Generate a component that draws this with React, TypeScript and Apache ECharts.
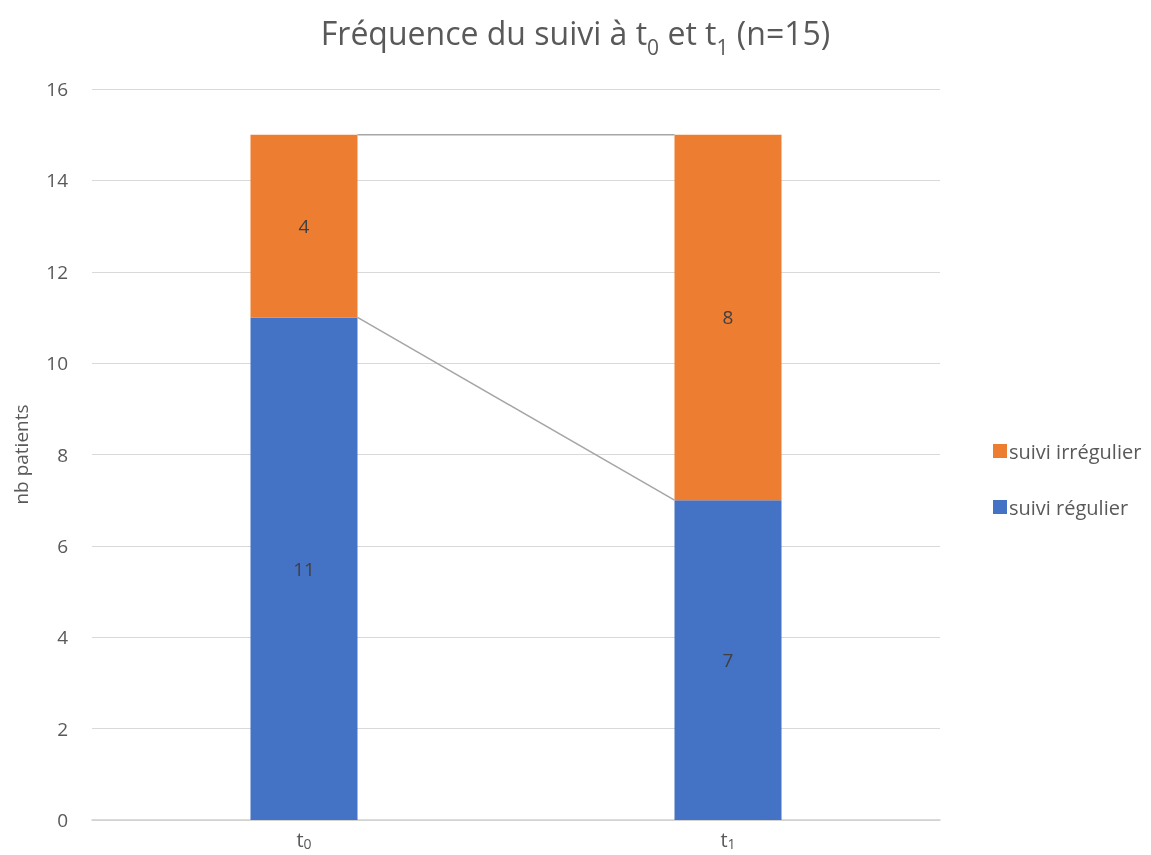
import React, { useEffect, useRef } from "react";
import * as echarts from "echarts";

const categories = ["t0", "t1"];
const regulier = [11, 7];
const irregulier = [4, 8];
const yTicks = { min: 0, max: 16, interval: 2 };
const seriesNames = ["suivi régulier", "suivi irrégulier"];

const BAR_W = 107;
const FONT = "'Open Sans', 'Liberation Sans', sans-serif";

export default function App() {
  const ref = useRef<HTMLDivElement>(null);
  useEffect(() => {
    if (!ref.current) return;
    const chart = echarts.init(ref.current, null, { renderer: "svg" });
    const tops1 = regulier.slice();
    const tops2 = regulier.map((v, i) => v + irregulier[i]);
    const lineData = [
      [0, tops1[0], tops1[1]],
      [0, tops2[0], tops2[1]],
    ];
    chart.setOption({
      animation: false,
      textStyle: { fontFamily: FONT },
      title: {
        text: "Fréquence du suivi à t{sub|0} et t{sub|1} (n=15)",
        left: "center",
        top: 2,
        textStyle: {
          fontFamily: FONT,
          fontSize: 32,
          fontWeight: "normal",
          color: "#595959",
          lineHeight: 50,
          rich: {
            sub: {
              fontFamily: FONT,
              fontSize: 21,
              color: "#595959",
              lineHeight: 50,
              verticalAlign: "bottom",
            },
          },
        },
      },
      legend: {
        data: [seriesNames[1], seriesNames[0]],
        orient: "vertical",
        left: 988,
        top: 436,
        itemWidth: 14,
        itemHeight: 14,
        itemGap: 36,
        icon: "rect",
        textStyle: { fontFamily: FONT, fontSize: 20, color: "#595959", padding: [0, 0, 0, -3] },
      },
      grid: { left: 92, right: 211, top: 89, bottom: 35, containLabel: false },
      xAxis: {
        type: "category",
        data: categories,
        axisTick: { show: false },
        axisLine: { lineStyle: { color: "#d0d0d0", width: 1.5 } },
        axisLabel: {
          margin: 8,
          fontFamily: FONT,
          fontSize: 20,
          color: "#595959",
          formatter: (v: string) => v.slice(0, 1) + "{s|" + v.slice(1) + "}",
          rich: {
            s: { fontFamily: FONT, fontSize: 14, color: "#595959", verticalAlign: "bottom", lineHeight: 22 },
          },
          lineHeight: 22,
        },
      },
      yAxis: {
        type: "value",
        min: yTicks.min,
        max: yTicks.max,
        interval: yTicks.interval,
        name: "nb patients",
        nameLocation: "middle",
        nameGap: 62,
        nameRotate: 90,
        nameTextStyle: { fontFamily: FONT, fontSize: 19, color: "#595959" },
        axisLine: { show: false },
        axisTick: { show: false },
        axisLabel: { margin: 24, fontFamily: FONT, fontSize: 19, color: "#595959" },
        splitLine: { lineStyle: { color: "#d9d9d9", width: 1 } },
      },
      series: [
        {
          name: seriesNames[0],
          type: "bar",
          stack: "total",
          barWidth: BAR_W,
          data: regulier,
          itemStyle: { color: "#4472C4" },
          label: { show: true, position: "inside", fontFamily: FONT, fontSize: 19, color: "#404040" },
        },
        {
          name: seriesNames[1],
          type: "bar",
          stack: "total",
          barWidth: BAR_W,
          data: irregulier,
          itemStyle: { color: "#ED7D31" },
          label: { show: true, position: "inside", fontFamily: FONT, fontSize: 19, color: "#404040" },
        },
        {
          type: "custom",
          name: "serieslines",
          data: lineData,
          clip: false,
          z: 5,
          renderItem: (params: any, api: any) => {
            const p0 = api.coord([0, api.value(1)]);
            const p1 = api.coord([1, api.value(2)]);
            return {
              type: "line",
              shape: { x1: p0[0] + BAR_W / 2, y1: p0[1], x2: p1[0] - BAR_W / 2, y2: p1[1] },
              style: { stroke: "#a5a5a5", lineWidth: 1.5 },
            };
          },
        },
      ],
    });
    return () => chart.dispose();
  }, []);
  return <div ref={ref} style={{ position: "fixed", left: 0, top: 0, width: 1151, height: 855 }} />;
}
